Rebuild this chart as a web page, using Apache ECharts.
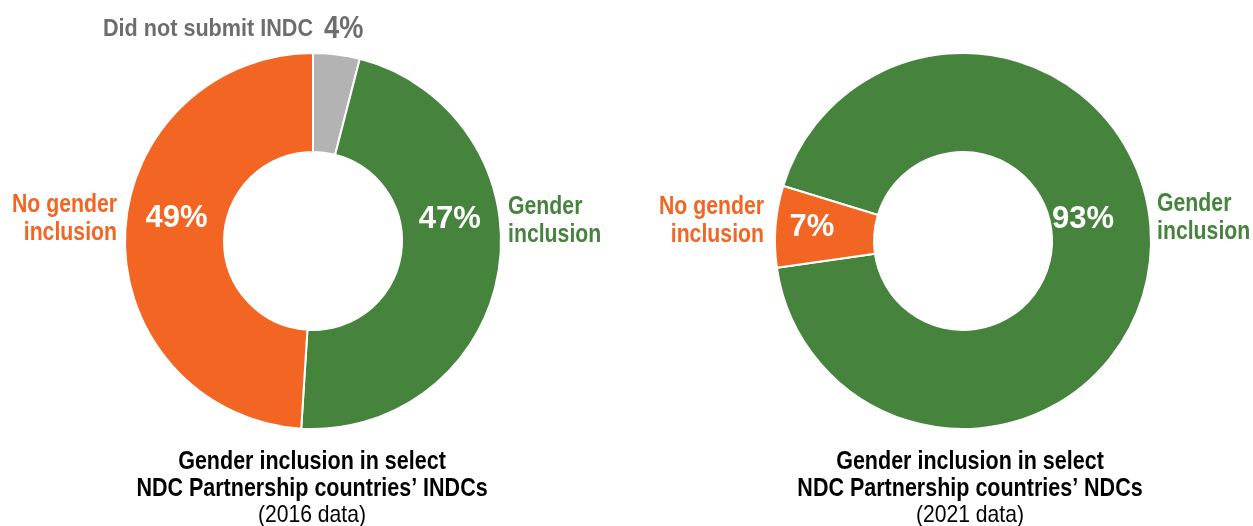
<!DOCTYPE html>
<html>
<head>
<meta charset="utf-8">
<script src="https://cdn.jsdelivr.net/npm/echarts@6/dist/echarts.min.js"></script>
<style>
  html, body { margin: 0; padding: 0; background: #fff; }
  #chart { width: 1253px; height: 526px; }
</style>
</head>
<body>
<div id="chart"></div>
<script>
// data
const names2016 = ['Did not submit INDC', 'Gender inclusion', 'No gender inclusion'];
const values2016 = [4, 47, 49];
const names2021 = ['Gender inclusion', 'No gender inclusion'];
const values2021 = [93, 7];
const titles = ['Gender inclusion in select\nNDC Partnership countries\u2019 INDCs', 'Gender inclusion in select\nNDC Partnership countries\u2019 NDCs'];
const years = ['(2016 data)', '(2021 data)'];

const FONT = '"Liberation Sans", Arial, sans-serif';
const NARROW = 0.85; // squeeze to look like Arial Narrow
const colors = {
  'Did not submit INDC': '#B3B3B3',
  'Gender inclusion': '#46833D',
  'No gender inclusion': '#F26522'
};
const textColors = {
  'Did not submit INDC': '#6D6D6D',
  'Gender inclusion': '#46833D',
  'No gender inclusion': '#F26522'
};

// nudges for the white percentage labels
const offsets2016 = [[0, 0], [-3, -44], [5, -18]];
const offsets2021 = [[-21, -32], [-10, -3]];

function buildData(names, values, offsets, showFirst) {
  return names.map((n, i) => ({
    name: n,
    value: values[i],
    itemStyle: { color: colors[n] },
    label: (showFirst === false && i === 0) ? { show: false } : { offset: offsets[i] }
  }));
}

function wrapName(n) {
  // two-line label as in the picture
  return n === 'No gender inclusion' ? 'No gender\ninclusion' : n === 'Gender inclusion' ? 'Gender\ninclusion' : n;
}

const chart = echarts.init(document.getElementById('chart'), null, { renderer: 'canvas' });

function txt(str, x, y, color, align, size, weight, vAlign, sx, lh) {
  return {
    type: 'text',
    x: x, y: y,
    scaleX: sx || NARROW,
    style: {
      text: str,
      fill: color,
      font: (weight || 'bold') + ' ' + size + 'px ' + FONT,
      align: align,
      verticalAlign: vAlign || 'middle',
      lineHeight: lh || 27
    }
  };
}

const pieLabel = {
  show: true,
  position: 'inside',
  formatter: p => p.value + '%',
  color: '#fff',
  fontFamily: FONT,
  fontWeight: 'bold',
  fontSize: 31
};

chart.setOption({
  animation: false,
  series: [
    {
      type: 'pie',
      center: [313, 241],
      radius: [89, 188],
      startAngle: 90,
      clockwise: true,
      silent: true,
      labelLine: { show: false },
      itemStyle: { borderColor: '#fff', borderWidth: 2 },
      label: pieLabel,
      data: buildData(names2016, values2016, offsets2016, false)
    },
    {
      type: 'pie',
      center: [963, 241],
      radius: [89, 188],
      startAngle: 163,
      clockwise: true,
      silent: true,
      labelLine: { show: false },
      itemStyle: { borderColor: '#fff', borderWidth: 2 },
      label: pieLabel,
      data: buildData(names2021, values2021, offsets2021, true)
    }
  ],
  graphic: [
    txt(names2016[0], 313, 29, textColors[names2016[0]], 'right', 24, 'bold', 'middle', 0.9),
    txt(values2016[0] + '%', 324, 29, textColors[names2016[0]], 'left', 32),
    txt(wrapName(names2016[2]), 117, 219, textColors[names2016[2]], 'right', 25, 'bold', 'middle', 0.85, 28),
    txt(wrapName(names2016[1]), 508, 221, textColors[names2016[1]], 'left', 25, 'bold', 'middle', 0.85, 28),
    txt(wrapName(names2021[1]), 764, 221, textColors[names2021[1]], 'right', 25, 'bold', 'middle', 0.85, 28),
    txt(wrapName(names2021[0]), 1157, 218, textColors[names2021[0]], 'left', 25, 'bold', 'middle', 0.85, 28),
    txt(titles[0], 312, 449, '#000', 'center', 25, 'bold', 'top', 0.86),
    txt(years[0], 312, 502, '#000', 'center', 24, 'normal', 'top', 0.88),
    txt(titles[1], 970, 449, '#000', 'center', 25, 'bold', 'top', 0.86),
    txt(years[1], 970, 502, '#000', 'center', 24, 'normal', 'top', 0.88)
  ]
});
</script>
</body>
</html>
